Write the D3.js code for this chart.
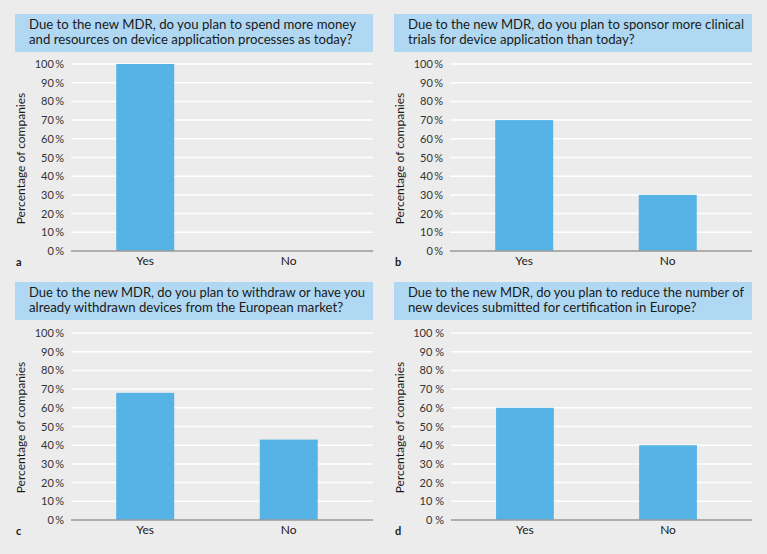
<!DOCTYPE html>
<html>
<head>
<meta charset="utf-8">
<script src="https://cdn.jsdelivr.net/npm/d3@7"></script>
<style>
  body { margin: 0; background: #ececec; }
  svg { display: block; font-family: Lato, sans-serif; }
</style>
</head>
<body>
<svg id="chart" width="767" height="554"></svg>
<script>
// data
const categories = ["Yes", "No"];
const yesValues = [100, 70, 68, 60];
const noValues = [0, 30, 43, 40];
const panelLetters = ["a", "b", "c", "d"];
const questions = [
    ["Due to the new MDR, do you plan to spend more money", "and resources on device application processes as today?"],
    ["Due to the new MDR, do you plan to sponsor more clinical", "trials for device application than today?"],
    ["Due to the new MDR, do you plan to withdraw or have you", "already withdrawn devices from the European market?"],
    ["Due to the new MDR, do you plan to reduce the number of", "new devices submitted for certification in Europe?"]
];
const yTicks = [0, 10, 20, 30, 40, 50, 60, 70, 80, 90, 100];
const tickSep = ["\u2009", "\u2009", "\u2009", " "];

const svg = d3.select("#chart");

// panel boxes: title box left/top, plot left/top/bottom
const panels = [
    {bx: 15, by: 14, px: 71, top: 64, bottom: 251},
    {bx: 394, by: 14, px: 450, top: 64, bottom: 251},
    {bx: 15, by: 282, px: 71, top: 333, bottom: 520},
    {bx: 394, by: 282, px: 451, top: 333, bottom: 520}
];
const boxW = 358, boxH = 38;

panels.forEach(function (p, i) {
    let g = svg.append("g");
    let right = p.bx + boxW;

    g.append("rect")
        .attr("x", p.bx).attr("y", p.by)
        .attr("width", boxW).attr("height", boxH)
        .attr("fill", "#b0d8f2");

    // two title lines
    questions[i].forEach(function (line, j) {
        let t = g.append("text")
            .attr("x", p.bx + 14).attr("y", p.by + 15 + j * 14.5)
            .attr("font-size", 13.2).attr("fill", "#1a1a1a")
            .text(line);
        let tw = t.node().getComputedTextLength();
        let maxW = boxW - 22;
        if (tw > maxW) {
            t.attr("textLength", maxW).attr("lengthAdjust", "spacingAndGlyphs");
        }
    });

    let y = d3.scaleLinear().domain([0, 100]).range([p.bottom, p.top]);
    let x = d3.scaleBand().domain(categories).range([p.px, right])
        .paddingInner(0.596).paddingOuter(0.35).align(0.45);

    // gridlines
    g.selectAll(".grid").data(yTicks.filter(d => d > 0)).enter().append("line")
        .attr("x1", p.px).attr("x2", right)
        .attr("y1", d => y(d)).attr("y2", d => y(d))
        .attr("stroke", "#ffffff").attr("stroke-width", 1.5);

    let vals = [yesValues[i], noValues[i]];
    g.selectAll(".bar").data(vals).enter().append("rect")
        .attr("x", (d, k) => x(categories[k]))
        .attr("width", x.bandwidth())
        .attr("y", d => y(d))
        .attr("height", d => y(0) - y(d))
        .attr("fill", "#56b3e6");

    // baseline
    g.append("line")
        .attr("x1", p.px).attr("x2", right)
        .attr("y1", y(0)).attr("y2", y(0))
        .attr("stroke", "#9a9a9a").attr("stroke-width", 1.5);

    let yAxis = d3.axisLeft(y).tickValues(yTicks).tickSize(0).tickPadding(7)
        .tickFormat(d => d + tickSep[i] + "%");
    let ya = g.append("g").attr("transform", `translate(${p.px},0)`).call(yAxis);
    ya.select(".domain").remove();
    ya.selectAll("text").attr("font-size", 11).attr("fill", "#333")
        .attr("font-family", "Lato, sans-serif");

    let xAxis = d3.axisBottom(x).tickSize(0).tickPadding(5);
    let xa = g.append("g").attr("transform", `translate(0,${p.bottom})`).call(xAxis);
    xa.select(".domain").remove();
    xa.selectAll("text").attr("font-size", 12).attr("fill", "#1a1a1a")
        .attr("font-family", "Lato, sans-serif");

    g.append("text")
        .attr("transform", `translate(${p.bx + 10},${(p.top + p.bottom) / 2 + 1}) rotate(-90)`)
        .attr("text-anchor", "middle")
        .attr("font-size", 12).attr("fill", "#1a1a1a")
        .text("Percentage of companies");

    g.append("text")
        .attr("x", p.bx + 1).attr("y", p.bottom + 15)
        .attr("font-size", 11).attr("font-weight", "bold").attr("fill", "#1a1a1a")
        .text(panelLetters[i]);
});
</script>
</body>
</html>
